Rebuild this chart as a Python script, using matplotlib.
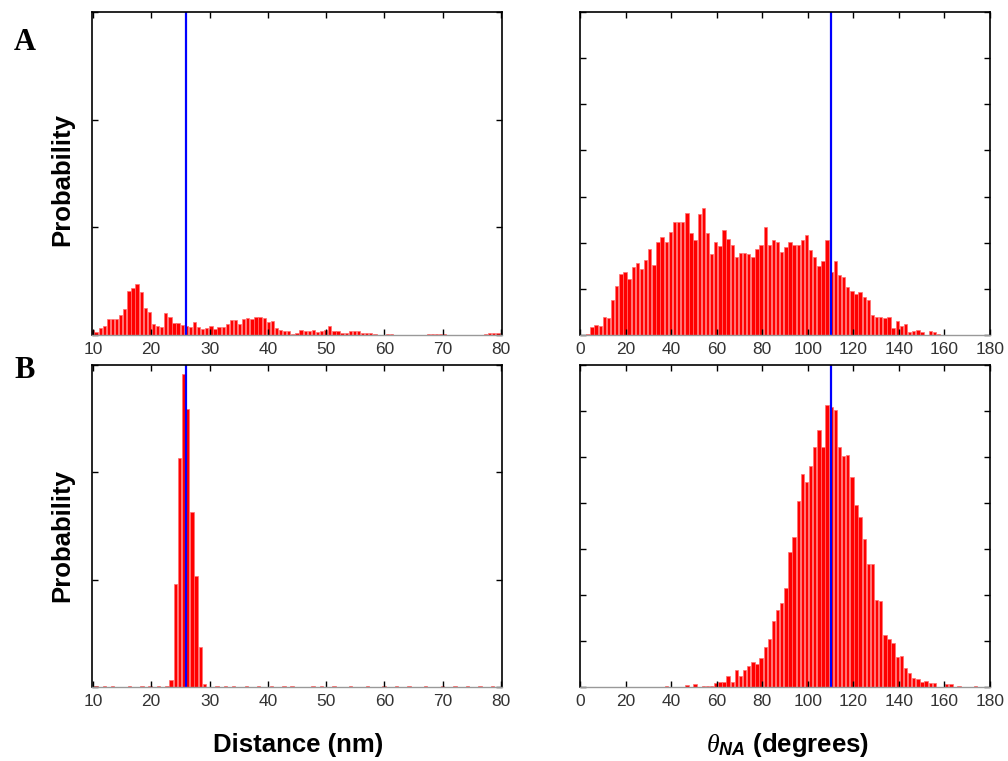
import numpy as np
import matplotlib
matplotlib.use("Agg")
import matplotlib.pyplot as plt

plt.rcParams['font.family'] = ['Liberation Sans', 'DejaVu Sans']
plt.rcParams['mathtext.fontset'] = 'custom'
plt.rcParams['mathtext.rm'] = 'Liberation Sans'
plt.rcParams['mathtext.it'] = 'Liberation Serif:italic'
plt.rcParams['mathtext.bfit'] = 'Liberation Sans:italic:bold'

# distance histograms (nm), 100 bins
dist_top_centers = 9.85 + 0.703 * np.arange(100)
dist_top = [0.047, 0.025, 0.062, 0.087, 0.153, 0.153, 0.146, 0.19, 0.24, 0.408,
            0.433, 0.47, 0.40, 0.25, 0.21, 0.103, 0.084, 0.075, 0.20, 0.165,
            0.11, 0.11, 0.093, 0.08, 0.072, 0.12, 0.072, 0.053, 0.069, 0.084,
            0.06, 0.072, 0.078, 0.10, 0.143, 0.143, 0.106, 0.153, 0.162, 0.146,
            0.165, 0.165, 0.156, 0.12, 0.134, 0.069, 0.047, 0.034, 0.034, 0.01,
            0.022, 0.047, 0.034, 0.04, 0.044, 0.028, 0.04, 0.044, 0.084, 0.04,
            0.04, 0.022, 0.022, 0.037, 0.037, 0.037, 0.016, 0.016, 0.016, 0.01,
            0.003, 0.0, 0.01, 0.01, 0.0, 0.0, 0.0, 0.0, 0.0, 0.0,
            0.003, 0.003, 0.006, 0.01, 0.012, 0.01, 0.005, 0.0, 0.0, 0.0,
            0.0, 0.0, 0.0, 0.0, 0.0, 0.003, 0.012, 0.02, 0.02, 0.015]

dist_bot_centers = 9.8 + 0.716 * np.arange(100)
dist_bot = [0.0] * 100
for idx in [1, 3, 5, 9, 12, 14, 16, 18, 30, 32, 34, 37, 40, 43, 46, 48, 53, 55, 58, 62,
            66, 70, 73, 76, 80, 84, 87, 90, 93, 96]:
    dist_bot[idx] = 0.006
dist_bot[19:28] = [0.07, 0.96, 2.13, 2.91, 2.59, 1.63, 1.03, 0.37, 0.03]

# angle histograms (degrees), 100 bins
theta_centers = 1.56 + 1.812 * np.arange(100)
theta_top = [0.01, 0.02, 0.17, 0.22, 0.20, 0.40, 0.36, 0.75, 1.06, 1.33,
             1.37, 1.22, 1.48, 1.57, 1.44, 1.62, 1.86, 1.51, 2.02, 2.12,
             2.02, 2.24, 2.45, 2.45, 2.45, 2.64, 2.22, 2.06, 2.62, 2.75,
             2.20, 1.75, 2.02, 1.93, 2.27, 2.07, 1.95, 1.70, 1.78, 1.78,
             1.75, 1.70, 1.86, 1.96, 2.35, 1.95, 2.06, 2.02, 1.80, 1.90,
             2.02, 1.95, 1.95, 2.06, 2.17, 1.84, 1.70, 1.50, 1.60, 2.06,
             1.36, 1.60, 1.30, 1.25, 1.05, 0.96, 0.88, 0.94, 0.83, 0.75,
             0.44, 0.39, 0.40, 0.36, 0.39, 0.16, 0.30, 0.20, 0.23, 0.07,
             0.09, 0.11, 0.06, 0.01, 0.09, 0.06, 0.02, 0.01, 0.0, 0.01,
             0.0, 0.01, 0.0, 0.01, 0.01, 0.0, 0.0, 0.0, 0.0, 0.0]
theta_bot = [0.0, 0.0, 0.01, 0.01, 0.01, 0.0, 0.0, 0.0, 0.0, 0.0,
             0.01, 0.01, 0.0, 0.0, 0.0, 0.0, 0.01, 0.01, 0.01, 0.01,
             0.03, 0.01, 0.0, 0.0, 0.01, 0.05, 0.01, 0.07, 0.01, 0.03,
             0.03, 0.03, 0.09, 0.11, 0.11, 0.25, 0.12, 0.36, 0.25, 0.36,
             0.46, 0.54, 0.51, 0.64, 0.87, 1.04, 1.43, 1.67, 1.83, 2.15,
             2.93, 3.26, 4.04, 4.62, 4.46, 4.80, 5.22, 5.58, 5.20, 6.12,
             6.08, 6.02, 5.22, 5.02, 5.04, 4.56, 3.96, 3.70, 3.22, 2.67,
             2.67, 1.89, 1.87, 1.13, 1.05, 0.96, 0.65, 0.67, 0.42, 0.30,
             0.20, 0.18, 0.11, 0.13, 0.09, 0.09, 0.01, 0.01, 0.06, 0.07,
             0.01, 0.02, 0.01, 0.01, 0.01, 0.02, 0.01, 0.0, 0.0, 0.0]

ref_dist = 25.9
ref_theta = 110.0

fig = plt.figure(figsize=(10.08, 7.61), dpi=100)

panels = [
    ([0.091, 0.5598, 0.4067, 0.4244], dist_top_centers, dist_top, 0.703, (9.8, 80.1), 3, ref_dist, range(10, 81, 10)),
    ([0.5756, 0.5598, 0.4065, 0.4244], theta_centers, theta_top, 1.812, (0, 180), 7, ref_theta, range(0, 181, 20)),
    ([0.091, 0.0972, 0.4067, 0.4238], dist_bot_centers, dist_bot, 0.716, (9.8, 80.1), 3, ref_dist, range(10, 81, 10)),
    ([0.5756, 0.0972, 0.4065, 0.4238], theta_centers, theta_bot, 1.812, (0, 180), 7, ref_theta, range(0, 181, 20)),
]

for rect, centers, vals, step, xlim, ymax, ref, xt in panels:
    ax = fig.add_axes(rect)
    ax.bar(centers, vals, width=step * 0.82, color='#ff0000',
           edgecolor='#ff7070', linewidth=0.5)
    ax.axvline(ref, color='#0000ff', lw=1.6)
    ax.set_xlim(*xlim)
    ax.set_ylim(0, ymax)
    ax.set_xticks(list(xt))
    ax.set_yticks(range(0, ymax + 1))
    ax.set_yticklabels([])
    ax.tick_params(direction='in', top=True, right=True, length=4,
                   width=1, labelsize=12.5, labelcolor='#333333', pad=5)
    for s in ['left', 'right', 'top']:
        ax.spines[s].set_linewidth(1.2)
        ax.spines[s].set_color('black')
    ax.spines['bottom'].set_color('#999999')
    ax.spines['bottom'].set_linewidth(1.0)

fig.text(25 / 1008, 1 - 42 / 761, 'A', family='Liberation Serif', fontweight='bold',
         fontsize=22, ha='center', va='center')
fig.text(25 / 1008, 1 - 370 / 761, 'B', family='Liberation Serif', fontweight='bold',
         fontsize=22, ha='center', va='center')
fig.text(62 / 1008, 1 - 180 / 761, 'Probability', rotation=90, fontweight='bold',
         fontsize=18.5, ha='center', va='center')
fig.text(62 / 1008, 1 - 535 / 761, 'Probability', rotation=90, fontweight='bold',
         fontsize=18.5, ha='center', va='center')
fig.text(298 / 1008, 1 - 745 / 761, 'Distance (nm)', fontweight='bold',
         fontsize=18.5, ha='center', va='center')
fig.text(788 / 1008, 1 - 745 / 761, r'$\theta_{\mathbfit{NA}}$ (degrees)', fontweight='bold',
         fontsize=18.5, ha='center', va='center')

fig.savefig('out.png', dpi=100)
